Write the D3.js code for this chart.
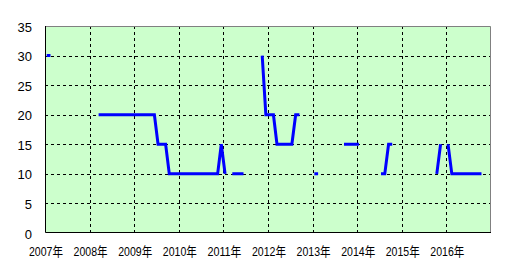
<!DOCTYPE html>
<html>
<head>
<meta charset="utf-8">
<script src="https://cdn.jsdelivr.net/npm/d3@7"></script>
<style>
  body { margin: 0; background: #fff; }
  .grid line { stroke: #000; stroke-dasharray: 3,3; shape-rendering: crispEdges; }
  .tick-label { font-family: "Liberation Sans", Arial, "Noto Sans CJK JP", sans-serif; fill: #000; }
  .chart-line { fill: none; stroke: #0000ff; stroke-width: 3; stroke-linejoin: miter; }
</style>
</head>
<body>
<svg id="chart"></svg>
<script>
// first month of the series, one value per month after it (null = no data)
const startMonth = '2007-01-15';
const values2007 = [30, 30, null, null, null, null, null, null, null, null, null, null];
const values2008 = [null, null, 20, 20, 20, 20, 20, 20, 20, 20, 20, 20];
const values2009 = [20, 20, 20, 20, 20, 20, 15, 15, 15, 10, 10, 10];
const values2010 = [10, 10, 10, 10, 10, 10, 10, 10, 10, 10, 10, 15];
const values2011 = [10, null, 10, 10, 10, 10, null, null, null, null, 30, 20];
const values2012 = [20, 20, 15, 15, 15, 15, 15, 20, 20, null, null, null];
const values2013 = [10, 10, null, null, null, null, null, null, 15, 15, 15, 15];
const values2014 = [15, null, null, null, null, null, 10, 10, 15, 15, null, null];
const values2015 = [null, null, null, null, null, null, null, null, null, 10, 15, null];
const values2016 = [15, 10, 10, 10, 10, 10, 10, 10, 10, 10, null, null];

const yearTicks = ['2007', '2008', '2009', '2010', '2011', '2012', '2013', '2014', '2015', '2016', '2017'];
const yearLabels = ['2007年', '2008年', '2009年', '2010年', '2011年', '2012年', '2013年', '2014年', '2015年', '2016年'];
const yTicks = [0, 5, 10, 15, 20, 25, 30, 35];

const config = {
  width: 446,
  height: 207,
  margin: { top: 26, left: 45 }
};

const parseDay = d3.timeParse('%Y-%m-%d');
const parseYear = d3.timeParse('%Y');

const allValues = [].concat(values2007, values2008, values2009, values2010, values2011,
  values2012, values2013, values2014, values2015, values2016);
const start = parseDay(startMonth);
const data = allValues.map((v, i) => ({ date: d3.timeMonth.offset(start, i), value: v }));

const svg = d3.select('#chart')
  .attr('width', 506)
  .attr('height', 275);

const xScale = d3.scaleTime()
  .domain([parseYear(yearTicks[0]), parseYear(yearTicks[yearTicks.length - 1])])
  .range([0, config.width]);
const yScale = d3.scaleLinear()
  .domain([0, 35])
  .range([config.height, 0]);

const g = svg.append('g')
  .attr('transform', `translate(${config.margin.left},${config.margin.top})`);

g.append('rect')
  .attr('width', config.width)
  .attr('height', config.height)
  .attr('fill', '#ccffcc');

// dashed grid
const grid = g.append('g').attr('class', 'grid');
grid.selectAll('.hgrid')
  .data(yTicks.filter(d => d > 0 && d < 35))
  .join('line')
  .attr('x1', 0)
  .attr('x2', config.width)
  .attr('y1', d => Math.round(yScale(d)) + 0.5)
  .attr('y2', d => Math.round(yScale(d)) + 0.5);
grid.selectAll('.vgrid')
  .data(yearTicks.slice(1, -1))
  .join('line')
  .attr('x1', d => Math.round(xScale(parseYear(d))) + 0.5)
  .attr('x2', d => Math.round(xScale(parseYear(d))) + 0.5)
  .attr('y1', 0)
  .attr('y2', config.height);

// frame: grey top/right, black axes
g.append('path')
  .attr('d', `M0.5,0.5H${config.width - 0.5}V${config.height}`)
  .attr('fill', 'none')
  .attr('stroke', '#808080');
g.append('path')
  .attr('d', `M0.5,0V${config.height - 0.5}H${config.width}`)
  .attr('fill', 'none')
  .attr('stroke', '#000');

const line = d3.line()
  .defined(d => d.value != null)
  .x(d => xScale(d.date))
  .y(d => yScale(d.value));

g.append('path')
  .datum(data)
  .attr('class', 'chart-line')
  .attr('d', line);

// y labels
svg.append('g').selectAll('text')
  .data(yTicks)
  .join('text')
  .attr('class', 'tick-label')
  .attr('x', 32)
  .attr('y', d => config.margin.top + yScale(d) + 5.5)
  .attr('text-anchor', 'end')
  .style('font-size', '13px')
  .text(d => d);

// x labels
svg.append('g').selectAll('text')
  .data(yearLabels)
  .join('text')
  .attr('class', 'tick-label')
  .attr('x', (d, i) => config.margin.left + xScale(parseYear(yearTicks[i])) + 1)
  .attr('y', 255.5)
  .attr('text-anchor', 'middle')
  .attr('textLength', 34)
  .attr('lengthAdjust', 'spacingAndGlyphs')
  .style('font-size', '13px')
  .text(d => d);
</script>
</body>
</html>
